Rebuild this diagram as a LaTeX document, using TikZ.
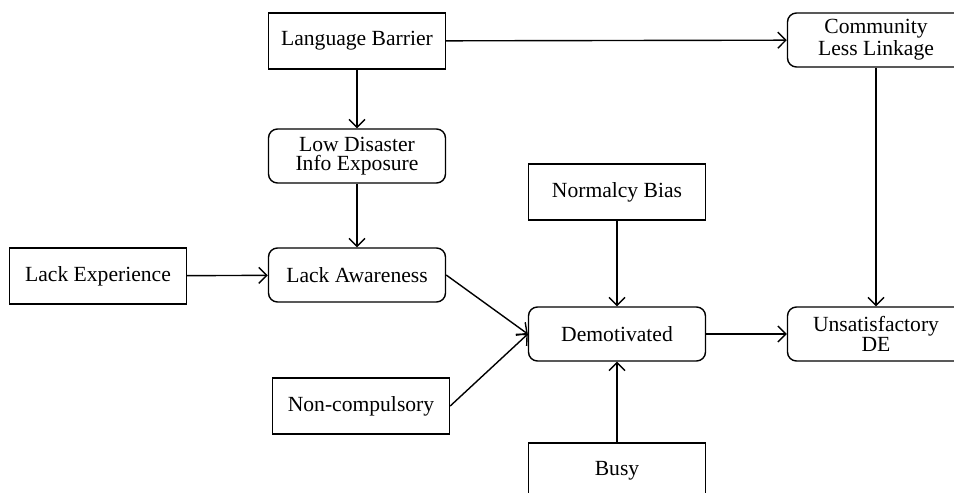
\documentclass[tikz,border=0pt]{standalone}
\usepackage{fontspec}
\setmainfont{Liberation Serif}
\usetikzlibrary{arrows.meta,positioning}

\tikzset{
  sqbox/.style={draw, line width=0.7pt, minimum width=88.5pt, minimum height=28pt,
                align=center, inner sep=2pt, font=\fontsize{10.8}{9.4}\selectfont},
  rndbox/.style={sqbox, rounded corners=4.5pt, minimum height=27pt},
  link/.style={-{Straight Barb[length=4pt,width=8pt]}, line width=0.7pt}
}

\begin{document}
\begin{tikzpicture}[x=0.5pt,y=-0.5pt]
  \useasboundingbox (0,0) rectangle (954,493);
  \clip (0,0) rectangle (954,493);

  % left column
  \node[sqbox]  (lang)   at (357,41)  {Language Barrier};
  \node[rndbox] (expo)   at (357,156) {Low Disaster\\Info Exposure};
  \node[sqbox]  (exper)  at (98,276)  {Lack Experience};
  \node[rndbox] (aware)  at (357,275) {Lack Awareness};
  \node[sqbox]  (noncomp) at (361,406) {Non-compulsory};

  % middle column
  \node[sqbox]  (normal) at (617,192) {Normalcy Bias};
  \node[rndbox] (demot)  at (617,334) {Demotivated};
  \node[sqbox]  (busy)   at (617,471) {Busy};

  % right column
  \node[rndbox] (commun) at (876,40)  {Community\\Less Linkage};
  \node[rndbox] (unsat)  at (876,334) {Unsatisfactory\\DE};

  \draw[link] (lang) -- (commun);
  \draw[link] (lang) -- (expo);
  \draw[link] (expo) -- (aware);
  \draw[link] (exper) -- (aware);
  \draw[link] (aware.east) -- (demot.west);
  \draw[link] (noncomp.east) -- (demot.west);
  \draw[link] (normal) -- (demot);
  \draw[link] (busy) -- (demot);
  \draw[link] (demot) -- (unsat);
  \draw[link] (commun) -- (unsat);
\end{tikzpicture}
\end{document}
